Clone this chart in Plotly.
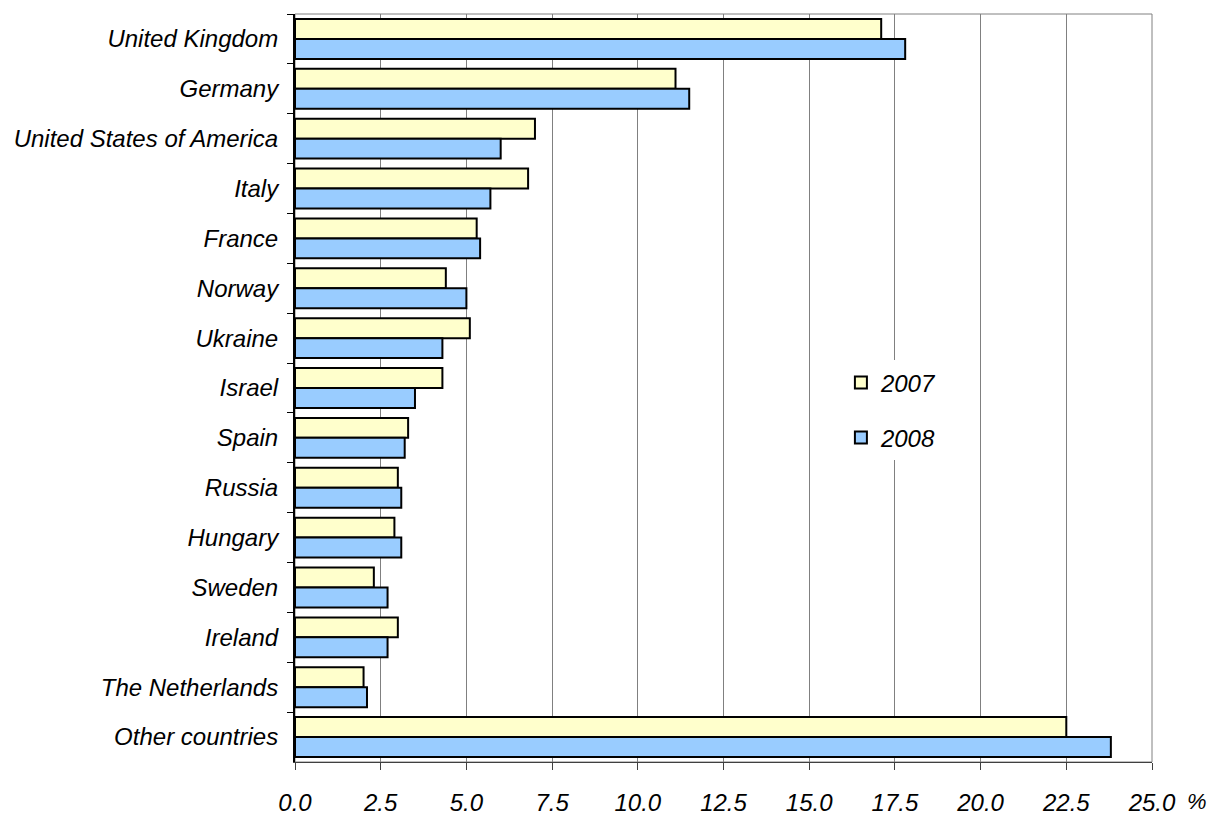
import plotly.graph_objects as go

countries = ["United Kingdom", "Germany", "United States of America", "Italy", "France",
             "Norway", "Ukraine", "Israel", "Spain", "Russia", "Hungary", "Sweden",
             "Ireland", "The Netherlands", "Other countries"]
values_2007 = [17.1, 11.1, 7.0, 6.8, 5.3, 4.4, 5.1, 4.3, 3.3, 3.0, 2.9, 2.3, 3.0, 2.0, 22.5]
values_2008 = [17.8, 11.5, 6.0, 5.7, 5.4, 5.0, 4.3, 3.5, 3.2, 3.1, 3.1, 2.7, 2.7, 2.1, 23.8]
x_ticks = [0, 2.5, 5, 7.5, 10, 12.5, 15, 17.5, 20, 22.5, 25]
x_tick_labels = ["0.0", "2.5", "5.0", "7.5", "10.0", "12.5", "15.0", "17.5", "20.0", "22.5", "25.0"]

FONT = "Arial, 'Liberation Sans', sans-serif"

fig = go.Figure()
fig.add_trace(go.Bar(
    y=countries, x=values_2007, orientation="h", name="2007", legendgroup="a",
    marker=dict(color="#FFFFCC", line=dict(color="black", width=2)),
))
fig.add_trace(go.Bar(
    y=countries, x=values_2008, orientation="h", name="2008", legendgroup="b",
    marker=dict(color="#99CCFF", line=dict(color="black", width=2)),
))

fig.update_layout(
    width=1216, height=814,
    margin=dict(l=284, r=72, t=6, b=56),
    paper_bgcolor="white", plot_bgcolor="white",
    barmode="group", bargap=0.2, bargroupgap=0,
    font=dict(family=FONT, color="black"),
    showlegend=True,
    legend=dict(
        x=0.637, y=0.537, xanchor="left", yanchor="top",
        bgcolor="white", traceorder="grouped", tracegroupgap=21,
        font=dict(family=FONT, size=24, style="italic"),
    ),
    shapes=[dict(type="rect", xref="paper", yref="paper", x0=0, x1=1, y0=0, y1=1,
                 line=dict(color="#808080", width=1), layer="below")],
    annotations=[dict(text="%", xref="paper", yref="paper", x=1.052, y=-0.053,
                      showarrow=False, xanchor="center", yanchor="middle",
                      font=dict(family=FONT, size=22, style="italic"))],
)

fig.update_xaxes(
    range=[0, 25], tickvals=x_ticks, ticktext=x_tick_labels,
    showgrid=True, gridcolor="#808080", gridwidth=1,
    showline=True, linecolor="#404040", linewidth=1,
    ticks="outside", ticklen=7, tickcolor="#404040",
    ticklabelstandoff=12,
    tickfont=dict(family=FONT, size=24, style="italic"),
    zeroline=False,
)
fig.update_yaxes(
    autorange="reversed", type="category",
    showgrid=False, showline=True, linecolor="black", linewidth=2,
    ticks="outside", ticklen=6, tickcolor="black", tickson="boundaries",
    ticklabelstandoff=10,
    tickfont=dict(family=FONT, size=24, style="italic"),
)

fig.write_html("out.html")
